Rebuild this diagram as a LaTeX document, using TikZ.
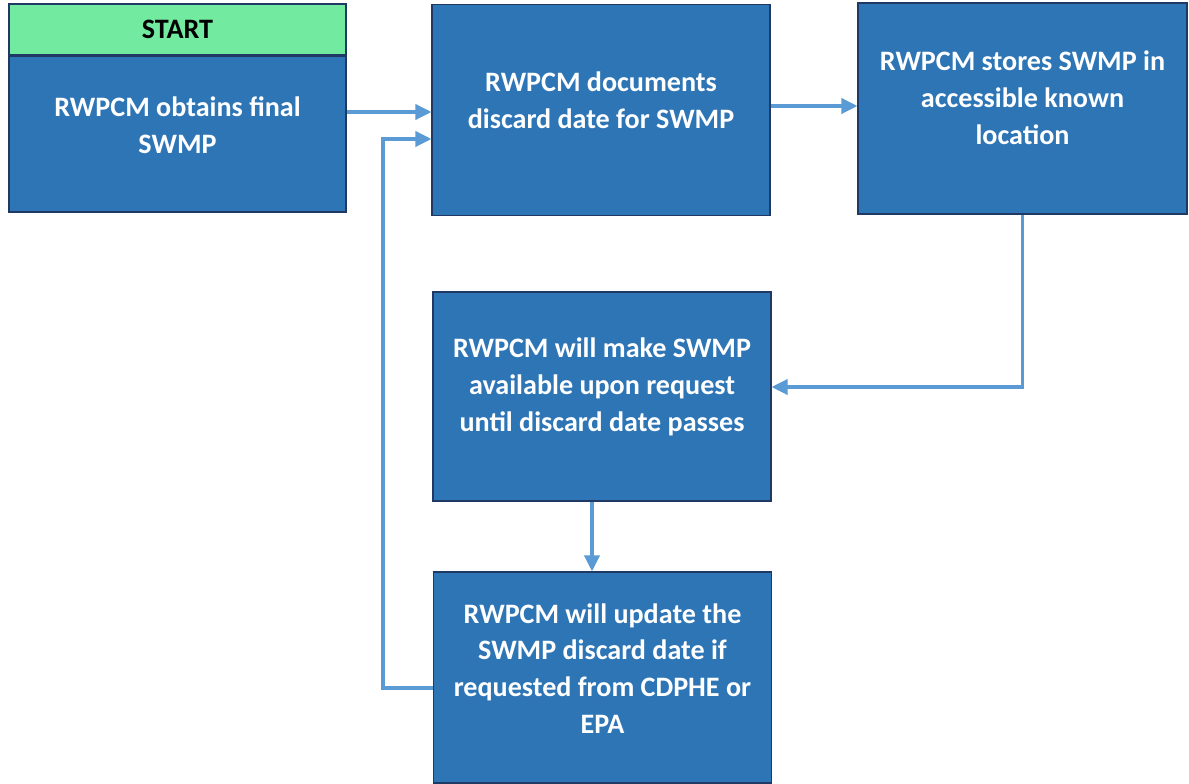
\documentclass[tikz,border=0pt]{standalone}
\usepackage{fontspec}
\setmainfont{Carlito}
\usepackage{xcolor}
\usetikzlibrary{arrows.meta, positioning, calc}
\definecolor{boxblue}{RGB}{46, 117, 182}
\definecolor{boxedge}{RGB}{32, 56, 100}
\definecolor{startgreen}{RGB}{114, 234, 160}
\definecolor{flowblue}{RGB}{91, 155, 213}

\begin{document}
\begin{tikzpicture}[
    stepbox/.style={rectangle, draw=boxedge, fill=boxblue, line width=0.6pt,
                    minimum width=6.76cm, minimum height=4.22cm},
    steptext/.style={align=center, text=white,
                     font=\fontsize{16}{21}\selectfont\bfseries},
    startbox/.style={rectangle, draw=boxedge, fill=startgreen, line width=0.6pt,
                     minimum width=6.74cm, minimum height=1.02cm,
                     font=\fontsize{16}{21}\selectfont\bfseries},
    flow/.style={-{Triangle[length=0.32cm, width=0.3cm]}, flowblue, line width=2pt}
]

%% Canvas
\fill[white] (0,0) rectangle (23.78,-15.68);
\useasboundingbox (0,0) rectangle (23.78,-15.68);

%% Start marker
\node[startbox] (start) at (3.55,-0.59) {START};

%% Steps
\node[stepbox, minimum width=6.74cm, minimum height=3.12cm] (obtain) at (3.55,-2.68) {};
\node[stepbox] (documents) at (12.02,-2.20) {};
\node[stepbox, minimum width=6.58cm] (stores) at (20.45,-2.17) {};
\node[stepbox, minimum height=4.18cm] (available) at (12.04,-7.93) {};
\node[stepbox] (update) at (12.05,-13.55) {};

%% Step texts
\node[steptext] (obtaintxt) at ([yshift=0.18cm]obtain.center)
    {RWPCM obtains final\\SWMP};
\node[steptext] (documentstxt) at ([yshift=0.2cm]documents.center)
    {RWPCM documents\\discard date for SWMP};
\node[steptext] (storestxt) at ([yshift=0.22cm]stores.center)
    {RWPCM stores SWMP in\\accessible known\\location};
\node[steptext] (availabletxt) at ([yshift=0.19cm]available.center)
    {RWPCM will make SWMP\\available upon request\\until discard date passes};
\node[steptext] (updatetxt) at ([yshift=0.18cm]update.center)
    {RWPCM will update the\\SWMP discard date if\\requested from CDPHE or\\EPA};

%% Flow
\coordinate (docin) at ([yshift=-0.04cm]documents.west);
\coordinate (docout) at ([yshift=0.08cm]documents.east);
\coordinate (backin) at ([yshift=-0.58cm]documents.west);
\coordinate (downx) at ([xshift=-0.2cm]available.south);

\draw[flow] (obtain.east |- docin) -- (docin);
\draw[flow] (docout) -- (stores.west |- docout);
\draw[flow] (stores.south) |- ([yshift=0.19cm]available.east);
\draw[flow] (downx) -- (update.north -| downx);
\draw[flow] ([yshift=-0.21cm]update.west) -- ++(-1.0,0) |- (backin);

\end{tikzpicture}
\end{document}
